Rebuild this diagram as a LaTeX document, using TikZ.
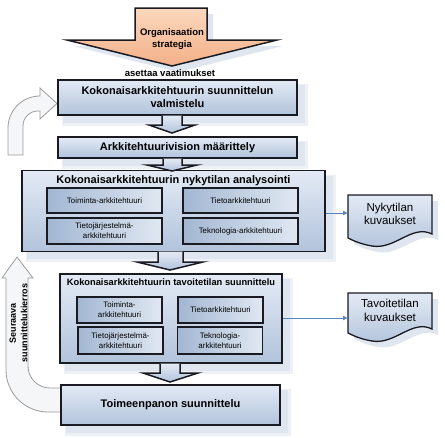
\documentclass[tikz,border=0pt]{standalone}
\usepackage{fontspec}
\setmainfont{Liberation Sans}
\usetikzlibrary{calc,arrows.meta}
\definecolor{boxtop}{HTML}{E3EAF5}
\definecolor{boxbot}{HTML}{B2C3DB}
\definecolor{innerdark}{HTML}{A3B7D2}
\definecolor{innerlight}{HTML}{E0E8F2}
\definecolor{edge}{HTML}{1A1A22}
\definecolor{shad}{HTML}{DFE6F0}
\definecolor{shadlight}{HTML}{EDF1F6}
\definecolor{peachtop}{HTML}{FCD8BE}
\definecolor{peachbot}{HTML}{F3B088}
\definecolor{loopfill}{HTML}{F5F6F8}
\definecolor{loopedge}{HTML}{9C9C9C}
\definecolor{linkblue}{HTML}{5A86BD}
\pgfdeclarelayer{bg}
\pgfsetlayers{bg,main}
\newcommand\boxshadow[1]{\begin{pgfonlayer}{bg}
  \fill[shadlight] ($(#1.north west)+(5,5)$) rectangle ($(#1.south east)+(10,10)$);
  \fill[shad] ($(#1.north west)+(6,6)$) rectangle ($(#1.south east)+(7,7)$);
  \end{pgfonlayer}}
\tikzset{
  bigbox/.style={rectangle,draw=edge,line width=1.3pt,top color=boxtop,bottom color=boxbot,inner sep=0pt,align=center,font=\bfseries\fontsize{11}{13}\selectfont},
  innerbox/.style={rectangle,draw=edge,line width=1.3pt,left color=innerdark,right color=innerlight,inner sep=0pt,align=center,font=\fontsize{7.9}{9.8}\selectfont},
  title/.style={font=\bfseries\fontsize{11}{13}\selectfont,inner sep=0pt},
  blockarr/.style={draw=edge,line width=1.5pt,top color=boxtop,bottom color=boxbot,line join=miter},
  loop/.style={draw=loopedge,line width=0.8pt,fill=loopfill},
  docshape/.style={draw=edge,line width=1.3pt,top color=boxtop,bottom color=boxbot},
  doctext/.style={font=\fontsize{11.5}{13.5}\selectfont,align=center,inner sep=0pt},
  link/.style={draw=linkblue,line width=0.8pt,-{Latex[length=5pt,width=5pt]}}
}
\newcommand\docone{(348,195) -- (432,195) -- (432,234)
  .. controls (412,224) and (395,250) .. (372,246) .. controls (360,244) and (352,240) .. (348,238) -- cycle}
\newcommand\doctwo{(348,293) -- (432,293) -- (432,329)
  .. controls (412,319) and (395,345) .. (372,341) .. controls (360,339) and (352,335) .. (348,333) -- cycle}
\newcommand\stratpath{(135,8) -- (207,8) -- (207,40) -- (277,40) -- (172,66) -- (67,40) -- (135,40) -- cycle}
\begin{document}
\begin{tikzpicture}[x=1pt,y=-1pt]
\useasboundingbox (0,0) rectangle (445,437);
\begin{pgfonlayer}{bg}
\fill[white] (0,0) rectangle (445,437);
\fill[shad,shift={(6,6)}] \stratpath;
\fill[shad,shift={(6,6)}] \docone;
\fill[shad,shift={(6,6)}] \doctwo;
\end{pgfonlayer}

% left loop arrows
\path[loop] (61,388) -- (50,388) .. controls (37.85,388) and (28,378.15) .. (28,366)
  -- (28,278) -- (33,278) -- (17,257) -- (2,278) -- (6,278) -- (6,370)
  .. controls (6,393.2) and (24.8,412) .. (48,412) -- (61,412) -- cycle;
\node[font=\bfseries\fontsize{9}{11.5}\selectfont,align=center,rotate=90,inner sep=0pt] (loopt) at (18.5,323) {Seuraava\\suunnittelukierros};
\path[loop] (8,155) -- (8,128) .. controls (8,110.3) and (22.3,96) .. (40,96)
  -- (40,88) -- (57,103.5) -- (40,119) -- (40,111) -- (38,111)
  .. controls (29.7,111) and (23,117.7) .. (23,126) -- (23,155) -- cycle;

% top strategy arrow
\path[draw=edge,line width=1.5pt,top color=peachtop,bottom color=peachbot,line join=miter] \stratpath;
\node[font=\bfseries\fontsize{9.5}{12}\selectfont,align=center,inner sep=0pt] (org) at (172,39) {Organisaation\\strategia};
\node[font=\bfseries\fontsize{9.5}{11}\selectfont,inner sep=0pt] (req) at (170,73) {asettaa vaatimukset};

% main boxes
\node[bigbox,minimum width=239pt,minimum height=35pt] (b1) at (177.5,97.5) {Kokonaisarkkitehtuurin suunnittelun\\valmistelu};
\boxshadow{b1}
\node[bigbox,minimum width=239pt,minimum height=21pt] (b2) at (177.5,147.5) {Arkkitehtuurivision määrittely};
\boxshadow{b2}
\node[bigbox,minimum width=303pt,minimum height=81pt] (b3) at (173.5,211) {};
\boxshadow{b3}
\node[title] (t3) at (173.5,180.5) {Kokonaisarkkitehtuurin nykytilan analysointi};
\node[bigbox,minimum width=222pt,minimum height=89pt] (b4) at (171,318.5) {};
\boxshadow{b4}
\node[title,font=\bfseries\fontsize{9.3}{11}\selectfont] (t4) at (171,282) {Kokonaisarkkitehtuurin tavoitetilan suunnittelu};
\node[bigbox,minimum width=219pt,minimum height=40pt] (b5) at (170.5,405) {Toimeenpanon suunnittelu};
\boxshadow{b5}

% inner boxes of b3
\node[innerbox,minimum width=115pt,minimum height=25pt] (i1) at (104.5,200.5) {Toiminta-arkkitehtuuri};
\node[innerbox,minimum width=115pt,minimum height=25pt] (i2) at (240.5,200.5) {Tietoarkkitehtuuri};
\node[innerbox,minimum width=115pt,minimum height=26pt] (i3) at (104.5,231) {Tietojärjestelmä-\\arkkitehtuuri};
\node[innerbox,minimum width=115pt,minimum height=26pt] (i4) at (240.5,231) {Teknologia-arkkitehtuuri};

% inner boxes of b4
\node[innerbox,minimum width=85pt,minimum height=26pt] (j1) at (119.5,310) {Toiminta-\\arkkitehtuuri};
\node[innerbox,minimum width=85pt,minimum height=26pt] (j2) at (220.5,310) {Tietoarkkitehtuuri};
\node[innerbox,minimum width=85pt,minimum height=27pt] (j3) at (120.5,340.5) {Tietojärjestelmä-\\arkkitehtuuri};
\node[innerbox,minimum width=85pt,minimum height=27pt] (j4) at (220,340.5) {Teknologia-\\arkkitehtuuri};

% block arrows between boxes
\path[blockarr] (162,115.7) -- (162,125) -- (149,125) -- (172,133) -- (195,125) -- (182,125) -- (182,115.7);
\path[blockarr] (163,158.7) -- (163,165) -- (147,165) -- (172,171) -- (197,165) -- (182,165) -- (182,158.7);
\path[blockarr] (158,251.7) -- (158,262) -- (137,262) -- (170,270) -- (203,262) -- (183,262) -- (183,251.7);
\path[blockarr] (160,363.7) -- (160,373) -- (143,373) -- (170,382) -- (198,373) -- (180,373) -- (180,363.7);

% documents
\path[docshape] \docone;
\node[doctext,minimum width=84pt,minimum height=30pt] (d1) at (390,214) {Nykytilan\\kuvaukset};
\path[docshape] \doctwo;
\node[doctext,minimum width=84pt,minimum height=30pt] (d2) at (390,310.5) {Tavoitetilan\\kuvaukset};

% links
\coordinate (a1) at (348,213);
\coordinate (a2) at (348,318);
\draw[link] (b3.east |- a1) -- (a1);
\draw[link] (b4.east |- a2) -- (a2);
\end{tikzpicture}
\end{document}
